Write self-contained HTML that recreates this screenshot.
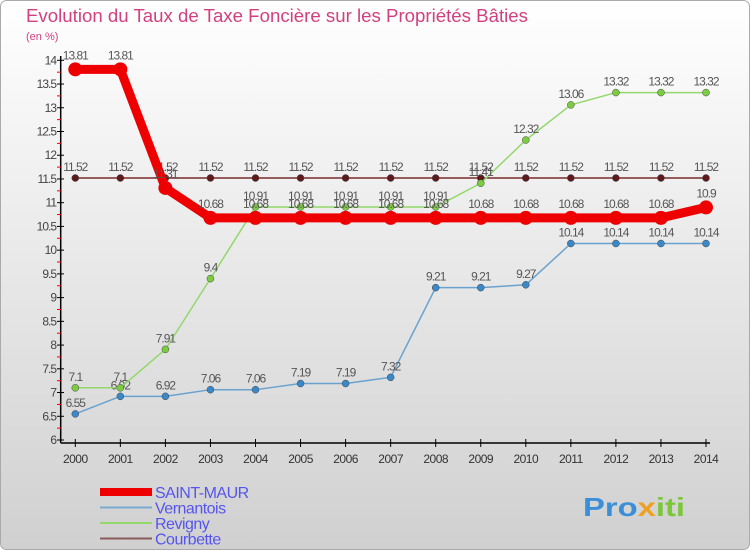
<!DOCTYPE html>
<html><head><meta charset="utf-8"><style>
body{margin:0}
#c{width:750px;height:550px;position:relative;overflow:hidden;font-family:"Liberation Sans",sans-serif;}
</style></head><body>
<div id="c">
<svg id="s" width="750" height="550" xmlns="http://www.w3.org/2000/svg" font-family="Liberation Sans, sans-serif">
<defs><linearGradient id="bg" x1="0" y1="0" x2="0" y2="1"><stop offset="0" stop-color="#ffffff"/><stop offset="1" stop-color="#d0d0d0"/></linearGradient></defs>
<rect x="0.5" y="0.5" width="749" height="549" rx="6" fill="url(#bg)" stroke="#aaa"/>
<text x="26" y="22" font-size="18" fill="#d2407f" textLength="502" lengthAdjust="spacingAndGlyphs">Evolution du Taux de Taxe Foncière sur les Propriétés Bâties</text>
<text x="26" y="40" font-size="11" fill="#d2407f">(en %)</text>
<g id="axes"></g><g id="series"></g><g id="legend"></g>
<text x="583" y="516" font-size="26" font-weight="bold" fill="#3a8fd8" textLength="102" lengthAdjust="spacingAndGlyphs">Pro<tspan fill="#f0a020">x</tspan><tspan fill="#7cc63a">iti</tspan></text>
</svg>
</div>
<script>
const years=[2000,2001,2002,2003,2004,2005,2006,2007,2008,2009,2010,2011,2012,2013,2014];
const saintMaur=[13.81,13.81,11.31,10.68,10.68,10.68,10.68,10.68,10.68,10.68,10.68,10.68,10.68,10.68,10.9];
const vernantois=[6.55,6.92,6.92,7.06,7.06,7.19,7.19,7.32,9.21,9.21,9.27,10.14,10.14,10.14,10.14];
const revigny=[7.1,7.1,7.91,9.4,10.91,10.91,10.91,10.91,10.91,11.41,12.32,13.06,13.32,13.32,13.32];
const courbette=[11.52,11.52,11.52,11.52,11.52,11.52,11.52,11.52,11.52,11.52,11.52,11.52,11.52,11.52,11.52];
const yTicks=[6,6.5,7,7.5,8,8.5,9,9.5,10,10.5,11,11.5,12,12.5,13,13.5,14];
const NS="http://www.w3.org/2000/svg";
const X=i=>75.3+i*(706-75.3)/14;
const Y=v=>440-(v-6)*(440-60.3)/8;
function mk(p,t,a){const e=document.createElementNS(NS,t);for(const k in a)e.setAttribute(k,a[k]);p.appendChild(e);return e;}
const ax=document.getElementById('axes');
let l=mk(ax,'line',{x1:60.7,y1:56,x2:60.7,y2:443,stroke:'#000','stroke-width':1.5});


l=mk(ax,'line',{x1:60.7,y1:443,x2:710,y2:443,stroke:'#000','stroke-width':1.5});


yTicks.forEach(v=>{
 mk(ax,'line',{x1:57,y1:Y(v),x2:64,y2:Y(v),stroke:'#000'});
 if(v<14){mk(ax,'line',{x1:57,y1:Y(v+0.25),x2:61,y2:Y(v+0.25),stroke:'#e00'});}
 const t=mk(ax,'text',{x:56,y:Y(v)+4,'font-size':12,'text-anchor':'end',fill:'#444','letter-spacing':'-1'});
 t.textContent=String(v);
 
 
});
years.forEach((yr,i)=>{
 mk(ax,'line',{x1:X(i),y1:439,x2:X(i),y2:447,stroke:'#000'});
 const t=mk(ax,'text',{x:X(i),y:463,'font-size':12,'text-anchor':'middle',fill:'#333','letter-spacing':'-0.5'});
 t.textContent=yr;
 
 
});
const sg=document.getElementById('series');
const ser=[
 {n:'courbette',d:courbette,c:'#7a2a2a',w:1.5,r:3.5,f:'#5e1a1a'},
 {n:'vernantois',d:vernantois,c:'#6aa2cf',w:1.5,r:3.5,f:'#3a88c8'},
 {n:'revigny',d:revigny,c:'#92d86a',w:1.5,r:3.5,f:'#7ccc42'},
 {n:'saint-maur',d:saintMaur,c:'#ee0000',w:9,r:7,f:'#ee0000'}];
ser.forEach(s=>{
 const g=mk(sg,'g',{});
 
 
 const p=mk(g,'polyline',{points:s.d.map((v,i)=>X(i)+','+Y(v)).join(' '),fill:'none',stroke:s.c,'stroke-width':s.w,'stroke-linejoin':'round'});
 
 
 s.d.forEach((v,i)=>{
  const c=mk(g,'circle',{cx:X(i),cy:Y(v),r:s.r,fill:s.f,stroke:s.n=='saint-maur'?'none':'#444','stroke-width':0.5});
  
  
  const t=mk(g,'text',{x:X(i),y:Y(v)-(s.n=='saint-maur'?10:7),'font-size':12,'text-anchor':'middle',fill:'#555','letter-spacing':'-1'});
  t.textContent=String(v);
  
  
 });
});
const lg=document.getElementById('legend');
const le=[['SAINT-MAUR','#ee0000',8],['Vernantois','#7aaad0',2],['Revigny','#92d86a',2],['Courbette','#8a5a5a',2]];
le.forEach((e,i)=>{
 const y=492+i*15.5;
 const g=mk(lg,'g',{});
 
 
 mk(g,'line',{x1:100,y1:y,x2:152,y2:y,stroke:e[1],'stroke-width':e[2]});
 const t=mk(g,'text',{x:155,y:y+6,'font-size':16,fill:'#5555ee','letter-spacing':'-0.5'});
 t.textContent=e[0];
});
</script>
</body></html>
